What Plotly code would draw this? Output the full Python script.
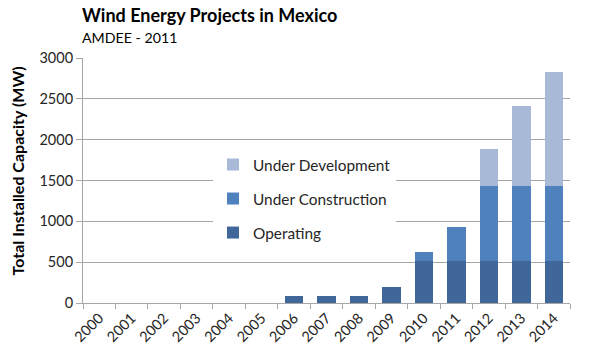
import plotly.graph_objects as go

years = [str(y) for y in range(2000, 2015)]
operating = [0, 0, 0, 0, 0, 0, 86, 86, 86, 200, 515, 515, 515, 515, 515]
under_construction = [0, 0, 0, 0, 0, 0, 0, 0, 0, 0, 105, 415, 915, 915, 915]
under_development = [0, 0, 0, 0, 0, 0, 0, 0, 0, 0, 0, 0, 460, 988, 1400]

title_text = "Wind Energy Projects in Mexico"
subtitle_text = "AMDEE - 2011"
y_title = "Total Installed Capacity (MW)"

font_family = "Lato, 'Open Sans', sans-serif"
W, H = 600, 359
L, R, T, B = 83, 30, 58, 56

fig = go.Figure()
series = [
    ("Operating", operating, "#3F679A", 3),
    ("Under Construction", under_construction, "#4F81BD", 2),
    ("Under Development", under_development, "#A8B9D8", 1),
]
for name, vals, col, rank in series:
    fig.add_trace(go.Bar(
        x=years, y=vals, name=name, legendgroup=name, legendrank=rank,
        marker=dict(color=col, line=dict(width=0)),
    ))

plot_w = W - L - R
plot_h = H - T - B
def px(xp):
    return (xp - L) / plot_w
def py(yp):
    return (H - B - yp) / plot_h

fig.update_layout(
    width=W, height=H,
    barmode="stack", bargap=0.43,
    paper_bgcolor="white", plot_bgcolor="white",
    margin=dict(l=L, r=R, t=T, b=B, autoexpand=False),
    font=dict(family=font_family, size=14, color="#262626"),
    showlegend=True,
    legend=dict(
        x=px(213), xanchor="left", y=py(148), yanchor="top",
        bgcolor="white", borderwidth=0,
        traceorder="grouped", tracegroupgap=11,
        font=dict(size=15.4, color="#262626"),
        itemwidth=30,
    ),
    annotations=[
        dict(text="<b>" + title_text + "</b>", x=px(80), y=py(14.5), xref="paper", yref="paper",
             xanchor="left", yanchor="middle", showarrow=False,
             font=dict(size=18, color="#000000")),
        dict(text=subtitle_text, x=px(80), y=py(37.5), xref="paper", yref="paper",
             xanchor="left", yanchor="middle", showarrow=False,
             font=dict(size=14.2, color="#000000")),
        dict(text="<b>" + y_title + "</b>", x=px(17), y=py(171.5), xref="paper", yref="paper",
             xanchor="center", yanchor="middle", textangle=-90, showarrow=False,
             font=dict(size=16, color="#000000")),
    ],
)

fig.update_yaxes(
    range=[0, 3000], dtick=500, tick0=0,
    showgrid=True, gridcolor="#A6A6A6", gridwidth=1,
    showline=True, linecolor="#A6A6A6", linewidth=1,
    ticks="outside", ticklen=6, tickcolor="#A6A6A6",
    zeroline=False,
    tickfont=dict(size=14.5, color="#262626"),
)
fig.update_xaxes(
    type="category",
    showline=True, linecolor="#A6A6A6", linewidth=1,
    ticks="outside", ticklen=5, tickcolor="#A6A6A6", tickson="boundaries",
    tickangle=-45,
    tickfont=dict(size=14.5, color="#262626"),
)

fig.write_html("out.html", config={"displayModeBar": False},
               post_script="document.body.style.margin='0';")
